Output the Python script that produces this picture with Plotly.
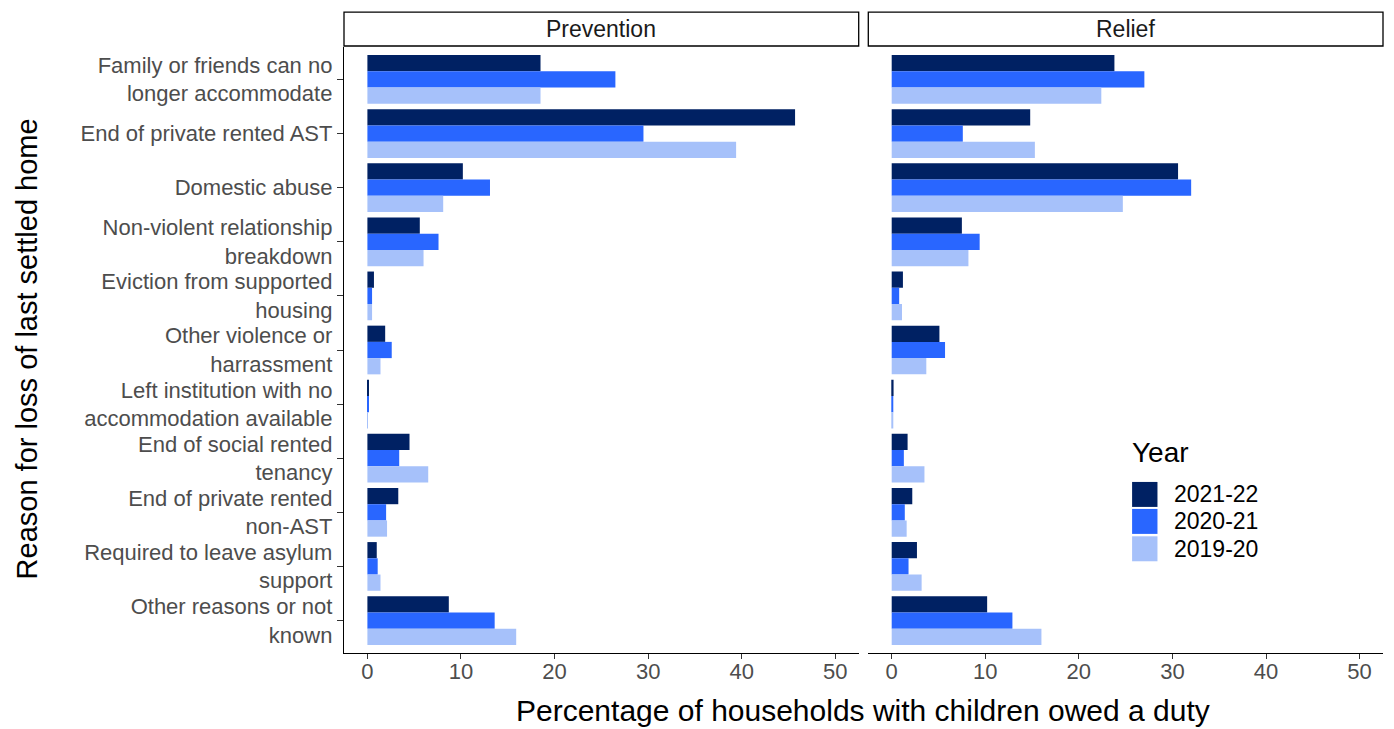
import plotly.graph_objects as go

categories = [
    "Family or friends can no<br>longer accommodate",
    "End of private rented AST",
    "Domestic abuse",
    "Non-violent relationship<br>breakdown",
    "Eviction from supported<br>housing",
    "Other violence or<br>harrassment",
    "Left institution with no<br>accommodation available",
    "End of social rented<br>tenancy",
    "End of private rented<br>non-AST",
    "Required to leave asylum<br>support",
    "Other reasons or not<br>known",
]
years = ["2021-22", "2020-21", "2019-20"]
colors = ["#002163", "#2966FF", "#A6C1FA"]

prevention = {
    "2021-22": [18.5, 45.7, 10.2, 5.6, 0.7, 1.9, 0.1, 4.5, 3.3, 1.0, 8.7],
    "2020-21": [26.5, 29.5, 13.1, 7.6, 0.5, 2.6, 0.1, 3.4, 2.0, 1.1, 13.6],
    "2019-20": [18.5, 39.4, 8.1, 6.0, 0.5, 1.4, 0.05, 6.5, 2.1, 1.4, 15.9],
}
relief = {
    "2021-22": [23.8, 14.8, 30.6, 7.5, 1.2, 5.1, 0.2, 1.7, 2.2, 2.7, 10.2],
    "2020-21": [27.0, 7.6, 32.0, 9.4, 0.8, 5.7, 0.15, 1.3, 1.4, 1.8, 12.9],
    "2019-20": [22.4, 15.3, 24.7, 8.2, 1.1, 3.7, 0.1, 3.5, 1.6, 3.2, 16.0],
}
panels = ["Prevention", "Relief"]
x_ticks = [0, 10, 20, 30, 40, 50]

fig = go.Figure()
for data, xa, ya in [(prevention, "x", "y"), (relief, "x2", "y2")]:
    for yr, col in zip(years, colors):
        fig.add_trace(go.Bar(
            y=categories, x=data[yr], orientation="h", name=yr,
            marker=dict(color=col, line=dict(width=0)),
            xaxis=xa, yaxis=ya, showlegend=False,
        ))

# the page body adds an 8px offset; work in page pixels and convert
OFF = 8
W, H = 1394 - OFF, 729 - OFF
left_px, right_px, top_px, bottom_px = 343.6, 1383.4, 47, 653.5
L = left_px - OFF
R = W - (right_px - OFF)
T = top_px - OFF
B = H - (bottom_px - OFF)
pw = W - L - R
ph = H - T - B

def px_x(p):
    return (p - OFF - L) / pw

def px_y(p):
    return (H - B - (p - OFF)) / ph

d1 = [0, px_x(858.7)]
d2 = [px_x(868.3), 1]

FONT = "Liberation Sans, Arial, sans-serif"
tickfont = dict(family=FONT, size=22, color="#4d4d4d")
common_x = dict(range=[-2.5, 52.5], tickvals=x_ticks, showline=True, linecolor="black",
                linewidth=1.3, ticks="outside", ticklen=5, tickcolor="#333333",
                ticklabelstandoff=-7,
                tickfont=tickfont, showgrid=False, zeroline=False)
fig.update_layout(
    width=W, height=H,
    margin=dict(l=L, r=R, t=T, b=B, autoexpand=False),
    paper_bgcolor="white", plot_bgcolor="white",
    barmode="group", bargap=0.1, bargroupgap=0,
    showlegend=False,
    font=dict(family=FONT),
    xaxis=dict(domain=d1, anchor="y", **common_x),
    xaxis2=dict(domain=d2, anchor="y2", **common_x),
    yaxis=dict(type="category", categoryorder="array", categoryarray=categories,
               range=[10.6, -0.6], showline=True, linecolor="black", linewidth=1.3,
               ticks="outside", ticklen=6, tickcolor="#333333",
               tickfont=dict(family=FONT, size=22, color="#4d4d4d"),
               showgrid=False, zeroline=False, anchor="x"),
    yaxis2=dict(type="category", categoryorder="array", categoryarray=categories,
                range=[10.6, -0.6], showline=False, showticklabels=False, ticks="",
                showgrid=False, zeroline=False, anchor="x2", matches="y"),
)

shapes = []
annotations = []
# facet strips
for dom, name in zip([d1, d2], panels):
    shapes.append(dict(type="rect", xref="paper", yref="paper",
                       x0=dom[0], x1=dom[1], y0=px_y(46), y1=px_y(12),
                       line=dict(color="black", width=1.3), fillcolor="white"))
    annotations.append(dict(text=name, xref="paper", yref="paper",
                            x=(dom[0] + dom[1]) / 2, y=px_y(29), showarrow=False,
                            xanchor="center", yanchor="middle",
                            font=dict(size=23, color="#1a1a1a")))

# axis titles
annotations.append(dict(text="Percentage of households with children owed a duty",
                        xref="paper", yref="paper", x=px_x(863), y=px_y(711),
                        showarrow=False, xanchor="center", yanchor="middle",
                        font=dict(size=30, color="black")))
annotations.append(dict(text="Reason for loss of last settled home",
                        xref="paper", yref="paper", x=px_x(26), y=px_y(349),
                        showarrow=False, xanchor="center", yanchor="middle", textangle=-90,
                        font=dict(size=29, color="black")))

# legend
annotations.append(dict(text="Year", xref="paper", yref="paper", x=px_x(1130), y=px_y(453),
                        showarrow=False, xanchor="left", yanchor="middle",
                        font=dict(size=28, color="black")))
key_tops = [482.3, 509.3, 536.7]
for yr, col, top in zip(years, colors, key_tops):
    shapes.append(dict(type="rect", xref="paper", yref="paper",
                       x0=px_x(1132.3), x1=px_x(1157.7), y0=px_y(top + 25), y1=px_y(top),
                       line=dict(width=0), fillcolor=col))
    annotations.append(dict(text=yr, xref="paper", yref="paper", x=px_x(1172), y=px_y(top + 12.5),
                            showarrow=False, xanchor="left", yanchor="middle",
                            font=dict(size=23, color="black")))

fig.update_layout(shapes=shapes, annotations=annotations)
fig.write_html("out.html")
